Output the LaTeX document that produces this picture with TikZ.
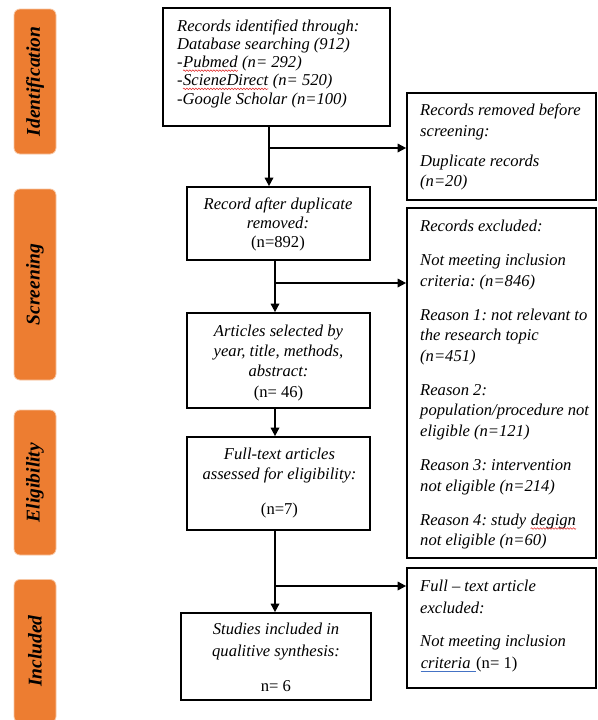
\documentclass[tikz,border=0pt]{standalone}
\usepackage{fontspec}
\setmainfont{Liberation Serif}
\usetikzlibrary{arrows.meta,decorations.pathmorphing}
\frenchspacing
\definecolor{taborange}{HTML}{ED7D31}
\definecolor{tabedge}{HTML}{F7C6A3}
\definecolor{spellred}{HTML}{E02020}
\definecolor{spellblue}{HTML}{4472C4}
\newcommand\redwave[1]{\tikz[baseline=(wv.base)]{\node[inner sep=0pt] (wv) {#1};\draw[spellred, line width=0.5pt, decorate, decoration={snake, amplitude=0.8pt, segment length=3pt}] ([yshift=-3pt]wv.base west) -- ([yshift=-3pt]wv.base east);}}
\newcommand\blueline[1]{\tikz[baseline=(bl.base)]{\node[inner sep=0pt] (bl) {#1};\draw[spellblue, line width=0.8pt] ([yshift=-3.5pt]bl.base west) -- ([yshift=-3.5pt]bl.base east);}}
\tikzset{
  tab/.style={fill=taborange, draw=tabedge, line width=0.8pt, rounded corners=6pt,
    rotate=90, inner sep=0pt, minimum height=42pt,
    font=\fontsize{19.5}{20}\selectfont\bfseries\itshape},
  box/.style={draw=black, line width=1.7pt, inner sep=0pt},
  txt/.style={inner sep=0pt, font=\fontsize{16.6}{#1}\selectfont\itshape},
  txt/.default=20.3,
  arr/.style={line width=1.7pt, -{Triangle[length=8.5pt,width=8.5pt]}},
}
\begin{document}
\begin{tikzpicture}[x=1pt, y=-1pt]
\useasboundingbox (0,0) rectangle (597,720);
% phase tabs
\node[tab, minimum width=145pt] (tIdent) at (35,81.5) {Identification};
\node[tab, minimum width=191pt] (tScreen) at (35,284.5) {Screening};
\node[tab, minimum width=145pt] (tElig) at (35,482.5) {Eligibility};
\node[tab, minimum width=143pt] (tIncl) at (35,651) {Included};
% main boxes
\node[box, line width=2pt, minimum width=227pt, minimum height=118pt] (b1) at (276.5,67) {};
\node[box, minimum width=183pt, minimum height=73pt] (b2) at (278.5,223.5) {};
\node[box, minimum width=183pt, minimum height=95pt] (b3) at (278.5,360.5) {};
\node[box, minimum width=183pt, minimum height=93pt] (b4) at (278.5,483.5) {};
\node[box, minimum width=190pt, minimum height=87pt] (b5) at (276,656.5) {};
% side boxes
\node[box, minimum width=189pt, minimum height=107pt] (r1) at (501.5,146.5) {};
\node[box, minimum width=189pt, minimum height=350pt] (r2) at (501.5,383) {};
\node[box, minimum width=189pt, minimum height=120pt] (r3) at (501.5,628) {};
% texts
\node[txt=18.2, anchor=north west, align=left] (x1) at (177,18.3) {\strut Records identified through:\\
Database searching (912)\\
-\redwave{Pubmed} (n= 292)\\
-\redwave{ScieneDirect} (n= 520)\\
-Google Scholar (n=100)};
\node[txt=19, anchor=north, align=center] (x2) at (278,195.7) {\strut Record after duplicate\\ removed:\\ \upshape(n=892)};
\node[txt=20.3, anchor=north, align=center] (x3) at (278.5,321.8) {\strut Articles selected by\\ year, title, methods,\\ abstract:\\ \upshape(n= 46)};
\node[txt=20, anchor=north, align=center] (x4) at (279.5,445) {\strut Full-text articles\\ assessed for eligibility:\\[15pt] \upshape(n=7)};
\node[txt=22, anchor=north, align=center] (x5) at (276,618.6) {\strut Studies included in\\ qualitive synthesis:\\[13pt] \upshape n= 6};
\node[txt=20.5, anchor=north west, align=left] (y1) at (420,101.2) {\strut Records removed before\\ screening:\\[9.5pt] Duplicate records\\ (n=20)};
\node[txt=20.3, anchor=north west, align=left] (y2) at (420,216.8) {\strut Records excluded:\\[14.2pt]
Not meeting inclusion\\ criteria: (n=846)\\[14.2pt]
Reason 1: not relevant to\\ the research topic\\ (n=451)\\[14.2pt]
Reason 2:\\ population/procedure not\\ eligible (n=121)\\[14.2pt]
Reason 3: intervention\\ not eligible (n=214)\\[14.2pt]
Reason 4: study \redwave{degign}\\ not eligible (n=60)};
\node[txt=22, anchor=north west, align=left] (y3) at (420,575.6) {\strut Full -- text article\\ excluded:\\[11pt] Not meeting inclusion\\ \blueline{criteria\hspace*{5pt}}\upshape(n= 1)};
% connectors
\coordinate (j1) at (269,148);
\coordinate (j2) at (275,283);
\coordinate (j3) at (275,586);
\draw[arr] (b1.south -| j1) -- (b2.north -| j1);
\draw[arr] (j1) -- (j1 -| r1.west);
\draw[arr] (b2.south -| j2) -- (b3.north -| j2);
\draw[arr] (j2) -- (j2 -| r2.west);
\draw[arr] (b3.south -| j2) -- (b4.north -| j2);
\draw[arr] (b4.south -| j3) -- (b5.north -| j3);
\draw[arr] (j3) -- (j3 -| r3.west);
\end{tikzpicture}
\end{document}
